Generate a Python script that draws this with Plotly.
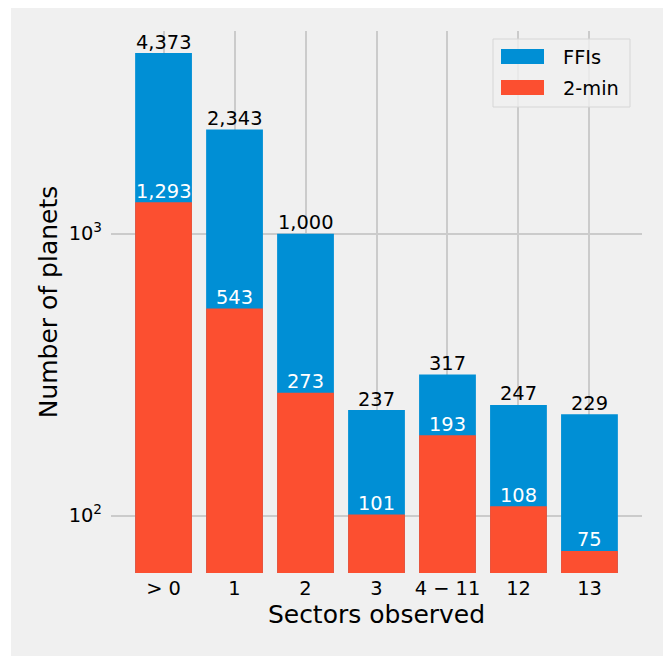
import math
import plotly.graph_objects as go

categories = ["> 0", "1", "2", "3", "4 \u2212 11", "12", "13"]
ffi_values = [4373, 2343, 1000, 237, 317, 247, 229]
twomin_values = [1293, 543, 273, 101, 193, 108, 75]
series_names = ["FFIs", "2-min"]
ytick_vals = [100, 1000]
ytick_text = ["10<sup>2</sup>", "10<sup>3</sup>"]

BLUE = "#008fd5"
RED = "#fc4f30"
BG = "#f0f0f0"
GRID = "#cbcbcb"
FONT = "DejaVu Sans"
FS = 19.4

OFF = 8  # page body margin
W, H = 663, 648
L, R, T, B = 103, 29, 23, 83
PW, PH = W - L - R, H - T - B


def px(x):
    return (x - OFF - L) / PW


def py(y):
    return (H - B - (y - OFF)) / PH


fig = go.Figure()
fig.add_trace(go.Bar(
    x=categories, y=ffi_values, name=series_names[0],
    marker=dict(color=BLUE, line=dict(width=0)), showlegend=False,
))
fig.add_trace(go.Bar(
    x=categories, y=twomin_values, name=series_names[1],
    marker=dict(color=RED, line=dict(width=0)), showlegend=False,
))

annotations = []
for i, v in enumerate(ffi_values):
    annotations.append(dict(x=i, y=math.log10(v), xref="x", yref="y", text=f"{v:,}",
                            showarrow=False, yanchor="middle", yshift=11,
                            font=dict(size=FS, color="black", family=FONT)))
for i, v in enumerate(twomin_values):
    annotations.append(dict(x=i, y=math.log10(v), xref="x", yref="y", text=f"{v:,}",
                            showarrow=False, yanchor="middle", yshift=11,
                            font=dict(size=FS, color="white", family=FONT)))

shapes = [
    dict(type="rect", xref="paper", yref="paper", x0=px(11), x1=px(664), y0=py(0), y1=py(H + OFF + 4),
         fillcolor=BG, line=dict(width=0), layer="below"),
    # legend box
    dict(type="rect", xref="paper", yref="paper", x0=px(493), x1=px(630), y0=py(39), y1=py(107),
         fillcolor="rgba(240,240,240,0.8)", line=dict(color="#d6d6d6", width=1), layer="above"),
    dict(type="rect", xref="paper", yref="paper", x0=px(501), x1=px(544), y0=py(49), y1=py(64),
         fillcolor=BLUE, line=dict(width=0), layer="above"),
    dict(type="rect", xref="paper", yref="paper", x0=px(501), x1=px(544), y0=py(80), y1=py(95),
         fillcolor=RED, line=dict(width=0), layer="above"),
]
annotations += [
    dict(xref="paper", yref="paper", x=px(561), y=py(57), text=series_names[0], showarrow=False,
         xanchor="left", yanchor="middle", font=dict(size=FS, color="black", family=FONT)),
    dict(xref="paper", yref="paper", x=px(561), y=py(88), text=series_names[1], showarrow=False,
         xanchor="left", yanchor="middle", font=dict(size=FS, color="black", family=FONT)),
]

fig.update_layout(
    width=W, height=H,
    margin=dict(l=L, r=R, t=T, b=B, pad=0),
    paper_bgcolor="white", plot_bgcolor=BG,
    barmode="overlay", bargap=0.2,
    font=dict(family=FONT, color="black", size=FS),
    shapes=shapes, annotations=annotations,
    showlegend=False,
    xaxis=dict(
        type="category", categoryorder="array", categoryarray=categories,
        range=[-0.74, 6.74], showgrid=True, gridcolor=GRID, gridwidth=1.5,
        zeroline=False, showline=False, ticks="", ticklabelstandoff=2,
        tickfont=dict(size=FS, color="black", family=FONT),
        title=dict(text="Sectors observed", font=dict(size=25, color="black", family=FONT), standoff=5),
        automargin=False,
    ),
    yaxis=dict(
        type="log", range=[1.7968, 3.7188], tickvals=ytick_vals, ticktext=ytick_text,
        showgrid=True, gridcolor=GRID, gridwidth=1.5, zeroline=False, showline=False,
        ticks="", ticklabelstandoff=8,
        tickfont=dict(size=FS, color="black", family=FONT),
        title=dict(text="Number of planets", font=dict(size=25, color="black", family=FONT), standoff=3),
        automargin=False,
    ),
)

fig.write_html("out.html")
